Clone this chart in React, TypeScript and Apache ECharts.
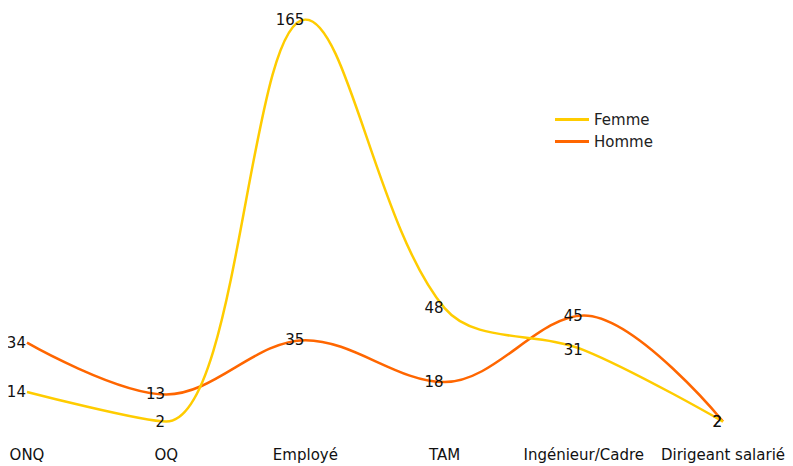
import React, { useEffect, useRef } from "react";
import * as echarts from "echarts";

const categories = ["ONQ", "OQ", "Employé", "TAM", "Ingénieur/Cadre", "Dirigeant salarié"];
const femme = [14, 2, 165, 48, 31, 2];
const homme = [34, 13, 35, 18, 45, 2];

const FONT = "DejaVu Sans";

export default function App() {
  const ref = useRef<HTMLDivElement>(null);
  useEffect(() => {
    if (!ref.current) return;
    const chart = echarts.init(ref.current, null, { renderer: "svg" });
    const label = {
      show: true,
      position: "left",
      distance: 1,
      color: "#111",
      fontSize: 15,
      fontFamily: FONT,
    };
    chart.setOption({
      animation: false,
      grid: {
        left: 19,
        right: 62,
        top: 11.5,
        bottom: 39.5,
        containLabel: false,
        outerBoundsMode: "none",
      },
      legend: {
        orient: "vertical",
        left: 542,
        top: 99,
        icon: "rect",
        itemWidth: 34,
        itemHeight: 3,
        itemGap: 7,
        textStyle: { fontSize: 15, fontFamily: FONT, color: "#222" },
        data: ["Femme", "Homme"],
      },
      xAxis: {
        type: "category",
        data: categories,
        boundaryGap: false,
        axisLine: { show: false },
        axisTick: { show: false },
        axisLabel: { fontSize: 15, fontFamily: FONT, color: "#111", margin: 21, interval: 0 },
      },
      yAxis: {
        type: "value",
        min: 0,
        max: 165,
        show: false,
        splitLine: { show: false },
      },
      series: [
        {
          name: "Homme",
          type: "line",
          data: homme,
          smooth: 0.35,
          symbol: "circle",
          symbolSize: 0.1,
          showSymbol: true,
          lineStyle: { color: "#FF6600", width: 2.5 },
          itemStyle: { color: "#FF6600" },
          label,
        },
        {
          name: "Femme",
          type: "line",
          data: femme,
          smooth: 0.35,
          symbol: "circle",
          symbolSize: 0.1,
          showSymbol: true,
          lineStyle: { color: "#FFCC00", width: 2.5 },
          itemStyle: { color: "#FFCC00" },
          label,
        },
      ],
    });
    return () => chart.dispose();
  }, []);
  return <div ref={ref} style={{ width: 777, height: 458 }} />;
}
